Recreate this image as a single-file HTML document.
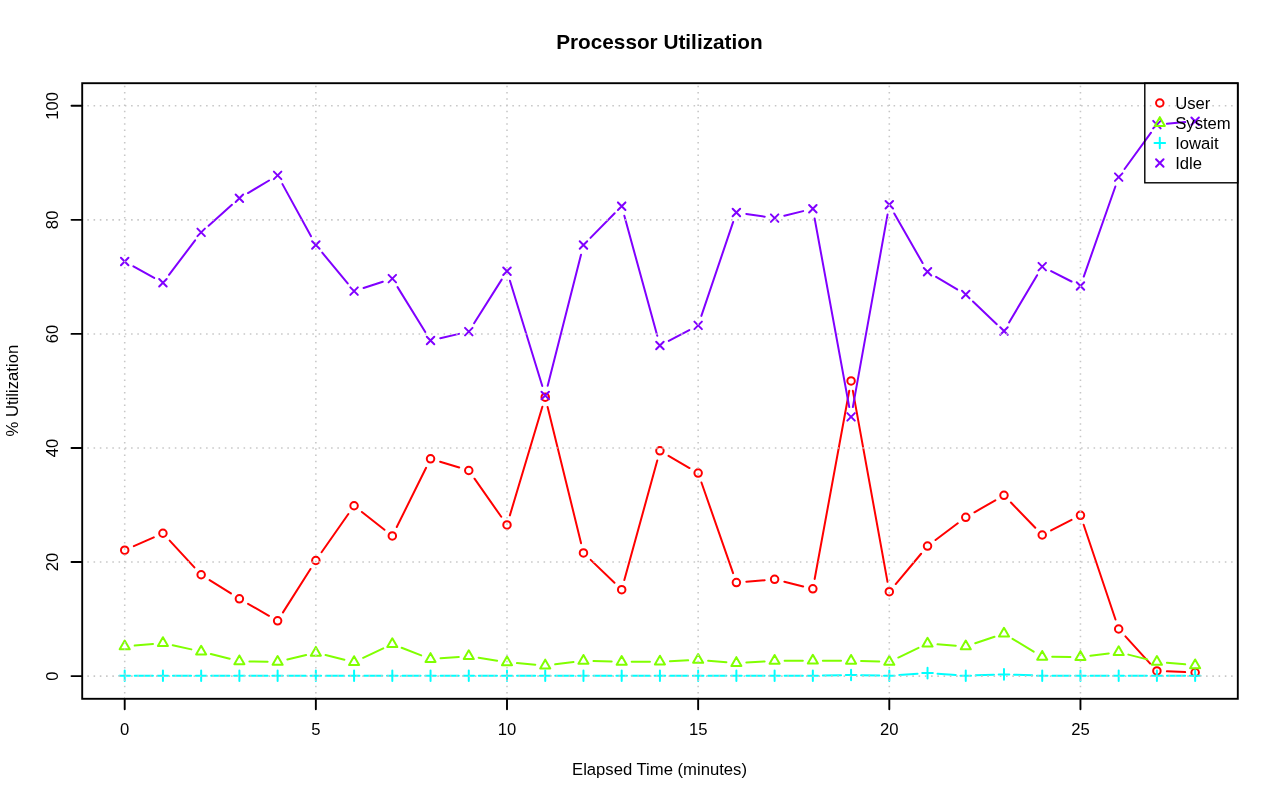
<!DOCTYPE html>
<html lang="en"><head><meta charset="utf-8"><title>Processor Utilization</title>
<style>html,body{margin:0;padding:0;background:#fff;overflow:hidden}body{width:1280px;height:801px;position:relative;font-family:"Liberation Sans",Arial,sans-serif}</style>
</head><body>
<svg width="1280" height="801" viewBox="0 0 1280 801" style="display:block;position:absolute;left:0;top:0">
<rect width="1280" height="801" fill="#fff"/>
<path d="M133.84 546.17L153.79 537.30M169.70 540.60L194.39 567.40M209.63 580.08L230.92 593.45M248.06 603.76L268.95 615.79M282.98 612.34L310.49 568.95M321.58 552.30L348.35 513.95M361.92 511.95L384.47 529.78M396.75 527.02L426.10 467.78M440.10 461.74L459.21 467.58M474.52 478.69L501.25 516.79M509.87 515.39L542.36 406.80M547.61 406.93L581.08 543.20M590.67 559.85L614.48 582.77M624.34 580.06L657.27 460.47M668.56 455.86L689.51 468.04M701.45 482.51L733.08 573.13M746.34 581.72L764.65 580.17M784.31 581.74L803.14 586.43M814.65 579.01L849.26 390.80M852.86 390.81L887.51 581.86M895.72 584.03L921.11 553.74M935.52 540.05L957.77 523.29M974.43 512.29L995.32 500.30M1010.93 502.52L1035.28 527.81M1051.11 530.42L1071.56 519.86M1083.64 524.75L1115.49 619.51M1125.41 636.39L1150.18 663.57M1166.90 671.37L1185.15 672.10" fill="none" stroke="#FF0000" stroke-width="2.0" stroke-linecap="round"/>
<circle cx="124.70" cy="550.23" r="3.75" fill="none" stroke="#FF0000" stroke-width="2.0"/>
<circle cx="162.93" cy="533.24" r="3.75" fill="none" stroke="#FF0000" stroke-width="2.0"/>
<circle cx="201.16" cy="574.76" r="3.75" fill="none" stroke="#FF0000" stroke-width="2.0"/>
<circle cx="239.39" cy="598.77" r="3.75" fill="none" stroke="#FF0000" stroke-width="2.0"/>
<circle cx="277.62" cy="620.78" r="3.75" fill="none" stroke="#FF0000" stroke-width="2.0"/>
<circle cx="315.85" cy="560.50" r="3.75" fill="none" stroke="#FF0000" stroke-width="2.0"/>
<circle cx="354.08" cy="505.75" r="3.75" fill="none" stroke="#FF0000" stroke-width="2.0"/>
<circle cx="392.31" cy="535.98" r="3.75" fill="none" stroke="#FF0000" stroke-width="2.0"/>
<circle cx="430.54" cy="458.82" r="3.75" fill="none" stroke="#FF0000" stroke-width="2.0"/>
<circle cx="468.77" cy="470.51" r="3.75" fill="none" stroke="#FF0000" stroke-width="2.0"/>
<circle cx="507.00" cy="524.97" r="3.75" fill="none" stroke="#FF0000" stroke-width="2.0"/>
<circle cx="545.23" cy="397.22" r="3.75" fill="none" stroke="#FF0000" stroke-width="2.0"/>
<circle cx="583.46" cy="552.92" r="3.75" fill="none" stroke="#FF0000" stroke-width="2.0"/>
<circle cx="621.69" cy="589.70" r="3.75" fill="none" stroke="#FF0000" stroke-width="2.0"/>
<circle cx="659.92" cy="450.83" r="3.75" fill="none" stroke="#FF0000" stroke-width="2.0"/>
<circle cx="698.15" cy="473.07" r="3.75" fill="none" stroke="#FF0000" stroke-width="2.0"/>
<circle cx="736.38" cy="582.57" r="3.75" fill="none" stroke="#FF0000" stroke-width="2.0"/>
<circle cx="774.61" cy="579.32" r="3.75" fill="none" stroke="#FF0000" stroke-width="2.0"/>
<circle cx="812.84" cy="588.84" r="3.75" fill="none" stroke="#FF0000" stroke-width="2.0"/>
<circle cx="851.07" cy="380.97" r="3.75" fill="none" stroke="#FF0000" stroke-width="2.0"/>
<circle cx="889.30" cy="591.70" r="3.75" fill="none" stroke="#FF0000" stroke-width="2.0"/>
<circle cx="927.53" cy="546.07" r="3.75" fill="none" stroke="#FF0000" stroke-width="2.0"/>
<circle cx="965.76" cy="517.27" r="3.75" fill="none" stroke="#FF0000" stroke-width="2.0"/>
<circle cx="1003.99" cy="495.31" r="3.75" fill="none" stroke="#FF0000" stroke-width="2.0"/>
<circle cx="1042.22" cy="535.01" r="3.75" fill="none" stroke="#FF0000" stroke-width="2.0"/>
<circle cx="1080.45" cy="515.28" r="3.75" fill="none" stroke="#FF0000" stroke-width="2.0"/>
<circle cx="1118.68" cy="628.99" r="3.75" fill="none" stroke="#FF0000" stroke-width="2.0"/>
<circle cx="1156.91" cy="670.97" r="3.75" fill="none" stroke="#FF0000" stroke-width="2.0"/>
<circle cx="1195.14" cy="672.51" r="3.75" fill="none" stroke="#FF0000" stroke-width="2.0"/>
<path d="M134.66 645.55L152.97 643.91M172.69 645.21L191.40 649.39M210.85 654.04L229.70 658.81M249.39 661.42L267.62 661.69M287.35 659.52L306.12 655.04M325.56 655.09L344.37 659.69M363.14 657.83L383.25 648.41M401.63 647.78L421.22 655.37M440.51 658.25L458.80 656.88M478.64 657.72L497.13 660.67M516.96 663.09L535.27 664.65M555.16 664.28L573.53 662.03M593.46 661.08L611.69 661.57M631.69 661.77L649.92 661.63M669.91 661.13L688.16 660.34M708.12 660.71L726.41 662.18M746.36 662.42L764.63 661.38M784.61 660.79L802.84 660.73M822.84 660.73L841.07 660.79M861.07 661.08L879.30 661.57M898.32 657.53L918.51 647.90M937.50 644.34L955.79 645.70M975.24 643.26L994.51 636.79M1012.54 638.80L1033.67 651.63M1052.22 656.87L1070.45 656.95M1090.37 655.74L1108.76 653.41M1128.37 654.61L1147.22 659.38M1166.87 662.73L1185.18 664.37" fill="none" stroke="#80FF00" stroke-width="2.0" stroke-linecap="round"/>
<path d="M124.70 640.61L129.75 649.36L119.65 649.36Z" fill="none" stroke="#80FF00" stroke-width="2.0" stroke-linejoin="round"/>
<path d="M162.93 637.19L167.98 645.94L157.88 645.94Z" fill="none" stroke="#80FF00" stroke-width="2.0" stroke-linejoin="round"/>
<path d="M201.16 645.75L206.21 654.49L196.11 654.49Z" fill="none" stroke="#80FF00" stroke-width="2.0" stroke-linejoin="round"/>
<path d="M239.39 655.44L244.44 664.19L234.34 664.19Z" fill="none" stroke="#80FF00" stroke-width="2.0" stroke-linejoin="round"/>
<path d="M277.62 656.01L282.67 664.76L272.57 664.76Z" fill="none" stroke="#80FF00" stroke-width="2.0" stroke-linejoin="round"/>
<path d="M315.85 646.89L320.90 655.63L310.80 655.63Z" fill="none" stroke="#80FF00" stroke-width="2.0" stroke-linejoin="round"/>
<path d="M354.08 656.24L359.13 664.99L349.03 664.99Z" fill="none" stroke="#80FF00" stroke-width="2.0" stroke-linejoin="round"/>
<path d="M392.31 638.33L397.36 647.08L387.26 647.08Z" fill="none" stroke="#80FF00" stroke-width="2.0" stroke-linejoin="round"/>
<path d="M430.54 653.16L435.59 661.91L425.49 661.91Z" fill="none" stroke="#80FF00" stroke-width="2.0" stroke-linejoin="round"/>
<path d="M468.77 650.31L473.82 659.06L463.72 659.06Z" fill="none" stroke="#80FF00" stroke-width="2.0" stroke-linejoin="round"/>
<path d="M507.00 656.41L512.05 665.16L501.95 665.16Z" fill="none" stroke="#80FF00" stroke-width="2.0" stroke-linejoin="round"/>
<path d="M545.23 659.66L550.28 668.41L540.18 668.41Z" fill="none" stroke="#80FF00" stroke-width="2.0" stroke-linejoin="round"/>
<path d="M583.46 654.98L588.51 663.73L578.41 663.73Z" fill="none" stroke="#80FF00" stroke-width="2.0" stroke-linejoin="round"/>
<path d="M621.69 656.01L626.74 664.76L616.64 664.76Z" fill="none" stroke="#80FF00" stroke-width="2.0" stroke-linejoin="round"/>
<path d="M659.92 655.73L664.97 664.47L654.87 664.47Z" fill="none" stroke="#80FF00" stroke-width="2.0" stroke-linejoin="round"/>
<path d="M698.15 654.07L703.20 662.82L693.10 662.82Z" fill="none" stroke="#80FF00" stroke-width="2.0" stroke-linejoin="round"/>
<path d="M736.38 657.15L741.43 665.90L731.33 665.90Z" fill="none" stroke="#80FF00" stroke-width="2.0" stroke-linejoin="round"/>
<path d="M774.61 654.98L779.66 663.73L769.56 663.73Z" fill="none" stroke="#80FF00" stroke-width="2.0" stroke-linejoin="round"/>
<path d="M812.84 654.87L817.89 663.62L807.79 663.62Z" fill="none" stroke="#80FF00" stroke-width="2.0" stroke-linejoin="round"/>
<path d="M851.07 654.98L856.12 663.73L846.02 663.73Z" fill="none" stroke="#80FF00" stroke-width="2.0" stroke-linejoin="round"/>
<path d="M889.30 656.01L894.35 664.76L884.25 664.76Z" fill="none" stroke="#80FF00" stroke-width="2.0" stroke-linejoin="round"/>
<path d="M927.53 637.76L932.58 646.51L922.48 646.51Z" fill="none" stroke="#80FF00" stroke-width="2.0" stroke-linejoin="round"/>
<path d="M965.76 640.61L970.81 649.36L960.71 649.36Z" fill="none" stroke="#80FF00" stroke-width="2.0" stroke-linejoin="round"/>
<path d="M1003.99 627.78L1009.04 636.53L998.94 636.53Z" fill="none" stroke="#80FF00" stroke-width="2.0" stroke-linejoin="round"/>
<path d="M1042.22 650.99L1047.27 659.74L1037.17 659.74Z" fill="none" stroke="#80FF00" stroke-width="2.0" stroke-linejoin="round"/>
<path d="M1080.45 651.16L1085.50 659.91L1075.40 659.91Z" fill="none" stroke="#80FF00" stroke-width="2.0" stroke-linejoin="round"/>
<path d="M1118.68 646.32L1123.73 655.06L1113.63 655.06Z" fill="none" stroke="#80FF00" stroke-width="2.0" stroke-linejoin="round"/>
<path d="M1156.91 656.01L1161.96 664.76L1151.86 664.76Z" fill="none" stroke="#80FF00" stroke-width="2.0" stroke-linejoin="round"/>
<path d="M1195.14 659.43L1200.19 668.18L1190.09 668.18Z" fill="none" stroke="#80FF00" stroke-width="2.0" stroke-linejoin="round"/>
<path d="M134.70 675.70L152.93 675.70M172.93 675.70L191.16 675.70M211.16 675.70L229.39 675.70M249.39 675.70L267.62 675.70M287.62 675.70L305.85 675.70M325.85 675.70L344.08 675.70M364.08 675.70L382.31 675.70M402.31 675.70L420.54 675.70M440.54 675.70L458.77 675.70M478.77 675.70L497.00 675.70M517.00 675.70L535.23 675.70M555.23 675.70L573.46 675.70M593.46 675.70L611.69 675.70M631.69 675.70L649.92 675.70M669.92 675.70L688.15 675.70M708.15 675.70L726.38 675.70M746.38 675.70L764.61 675.70M784.61 675.70L802.84 675.70M822.84 675.51L841.07 675.15M861.07 675.15L879.30 675.51M899.28 675.02L917.55 673.76M937.51 673.76L955.78 675.02M975.75 675.36L994.00 674.73M1013.98 674.73L1032.23 675.36M1052.22 675.70L1070.45 675.70M1090.45 675.70L1108.68 675.70M1128.68 675.70L1146.91 675.70M1166.91 675.70L1185.14 675.70" fill="none" stroke="#00FFFF" stroke-width="2.0" stroke-linecap="round"/>
<path d="M119.40 675.70H130.00M124.70 670.40V681.00" fill="none" stroke="#00FFFF" stroke-width="2.0" stroke-linecap="round"/>
<path d="M157.63 675.70H168.23M162.93 670.40V681.00" fill="none" stroke="#00FFFF" stroke-width="2.0" stroke-linecap="round"/>
<path d="M195.86 675.70H206.46M201.16 670.40V681.00" fill="none" stroke="#00FFFF" stroke-width="2.0" stroke-linecap="round"/>
<path d="M234.09 675.70H244.69M239.39 670.40V681.00" fill="none" stroke="#00FFFF" stroke-width="2.0" stroke-linecap="round"/>
<path d="M272.32 675.70H282.92M277.62 670.40V681.00" fill="none" stroke="#00FFFF" stroke-width="2.0" stroke-linecap="round"/>
<path d="M310.55 675.70H321.15M315.85 670.40V681.00" fill="none" stroke="#00FFFF" stroke-width="2.0" stroke-linecap="round"/>
<path d="M348.78 675.70H359.38M354.08 670.40V681.00" fill="none" stroke="#00FFFF" stroke-width="2.0" stroke-linecap="round"/>
<path d="M387.01 675.70H397.61M392.31 670.40V681.00" fill="none" stroke="#00FFFF" stroke-width="2.0" stroke-linecap="round"/>
<path d="M425.24 675.70H435.84M430.54 670.40V681.00" fill="none" stroke="#00FFFF" stroke-width="2.0" stroke-linecap="round"/>
<path d="M463.47 675.70H474.07M468.77 670.40V681.00" fill="none" stroke="#00FFFF" stroke-width="2.0" stroke-linecap="round"/>
<path d="M501.70 675.70H512.30M507.00 670.40V681.00" fill="none" stroke="#00FFFF" stroke-width="2.0" stroke-linecap="round"/>
<path d="M539.93 675.70H550.53M545.23 670.40V681.00" fill="none" stroke="#00FFFF" stroke-width="2.0" stroke-linecap="round"/>
<path d="M578.16 675.70H588.76M583.46 670.40V681.00" fill="none" stroke="#00FFFF" stroke-width="2.0" stroke-linecap="round"/>
<path d="M616.39 675.70H626.99M621.69 670.40V681.00" fill="none" stroke="#00FFFF" stroke-width="2.0" stroke-linecap="round"/>
<path d="M654.62 675.70H665.22M659.92 670.40V681.00" fill="none" stroke="#00FFFF" stroke-width="2.0" stroke-linecap="round"/>
<path d="M692.85 675.70H703.45M698.15 670.40V681.00" fill="none" stroke="#00FFFF" stroke-width="2.0" stroke-linecap="round"/>
<path d="M731.08 675.70H741.68M736.38 670.40V681.00" fill="none" stroke="#00FFFF" stroke-width="2.0" stroke-linecap="round"/>
<path d="M769.31 675.70H779.91M774.61 670.40V681.00" fill="none" stroke="#00FFFF" stroke-width="2.0" stroke-linecap="round"/>
<path d="M807.54 675.70H818.14M812.84 670.40V681.00" fill="none" stroke="#00FFFF" stroke-width="2.0" stroke-linecap="round"/>
<path d="M845.77 674.96H856.37M851.07 669.66V680.26" fill="none" stroke="#00FFFF" stroke-width="2.0" stroke-linecap="round"/>
<path d="M884.00 675.70H894.60M889.30 670.40V681.00" fill="none" stroke="#00FFFF" stroke-width="2.0" stroke-linecap="round"/>
<path d="M922.23 673.08H932.83M927.53 667.77V678.38" fill="none" stroke="#00FFFF" stroke-width="2.0" stroke-linecap="round"/>
<path d="M960.46 675.70H971.06M965.76 670.40V681.00" fill="none" stroke="#00FFFF" stroke-width="2.0" stroke-linecap="round"/>
<path d="M998.69 674.39H1009.29M1003.99 669.09V679.69" fill="none" stroke="#00FFFF" stroke-width="2.0" stroke-linecap="round"/>
<path d="M1036.92 675.70H1047.52M1042.22 670.40V681.00" fill="none" stroke="#00FFFF" stroke-width="2.0" stroke-linecap="round"/>
<path d="M1075.15 675.70H1085.75M1080.45 670.40V681.00" fill="none" stroke="#00FFFF" stroke-width="2.0" stroke-linecap="round"/>
<path d="M1113.38 675.70H1123.98M1118.68 670.40V681.00" fill="none" stroke="#00FFFF" stroke-width="2.0" stroke-linecap="round"/>
<path d="M1151.61 675.70H1162.21M1156.91 670.40V681.00" fill="none" stroke="#00FFFF" stroke-width="2.0" stroke-linecap="round"/>
<path d="M1189.84 675.70H1200.44M1195.14 670.40V681.00" fill="none" stroke="#00FFFF" stroke-width="2.0" stroke-linecap="round"/>
<path d="M133.44 266.35L154.19 277.90M168.98 274.80L195.11 240.37M208.61 225.74L231.94 204.86M247.98 193.06L269.03 180.50M282.44 184.14L311.03 236.19M322.23 252.66L347.70 283.44M363.58 288.03L382.81 281.72M397.57 287.11L425.28 331.97M440.28 338.23L459.03 333.89M474.11 323.19L501.66 279.64M509.94 280.75L542.29 385.95M547.69 385.82L581.00 254.65M590.48 237.83L614.67 213.29M624.34 215.82L657.27 335.85M668.77 340.84L689.30 330.02M701.36 315.89L733.17 221.92M746.27 213.92L764.72 216.67M784.32 215.76L803.13 211.13M814.65 218.57L849.26 407.06M852.84 407.06L887.53 214.59M894.26 213.43L922.57 263.07M936.12 276.88L957.17 289.45M972.99 301.47L996.76 324.16M1009.09 322.47L1037.12 275.23M1051.14 271.15L1071.53 281.49M1083.76 276.58L1115.37 186.52M1124.57 169.01L1151.02 132.70M1166.87 123.73L1185.18 122.09" fill="none" stroke="#8000FF" stroke-width="2.0" stroke-linecap="round"/>
<path d="M120.95 257.74L128.45 265.24M120.95 265.24L128.45 257.74" fill="none" stroke="#8000FF" stroke-width="2.0" stroke-linecap="round"/>
<path d="M159.18 279.01L166.68 286.51M159.18 286.51L166.68 279.01" fill="none" stroke="#8000FF" stroke-width="2.0" stroke-linecap="round"/>
<path d="M197.41 228.66L204.91 236.16M197.41 236.16L204.91 228.66" fill="none" stroke="#8000FF" stroke-width="2.0" stroke-linecap="round"/>
<path d="M235.64 194.44L243.14 201.94M235.64 201.94L243.14 194.44" fill="none" stroke="#8000FF" stroke-width="2.0" stroke-linecap="round"/>
<path d="M273.87 171.63L281.37 179.13M273.87 179.13L281.37 171.63" fill="none" stroke="#8000FF" stroke-width="2.0" stroke-linecap="round"/>
<path d="M312.10 241.20L319.60 248.70M312.10 248.70L319.60 241.20" fill="none" stroke="#8000FF" stroke-width="2.0" stroke-linecap="round"/>
<path d="M350.33 287.40L357.83 294.90M350.33 294.90L357.83 287.40" fill="none" stroke="#8000FF" stroke-width="2.0" stroke-linecap="round"/>
<path d="M388.56 274.85L396.06 282.35M388.56 282.35L396.06 274.85" fill="none" stroke="#8000FF" stroke-width="2.0" stroke-linecap="round"/>
<path d="M426.79 336.73L434.29 344.23M426.79 344.23L434.29 336.73" fill="none" stroke="#8000FF" stroke-width="2.0" stroke-linecap="round"/>
<path d="M465.02 327.89L472.52 335.39M465.02 335.39L472.52 327.89" fill="none" stroke="#8000FF" stroke-width="2.0" stroke-linecap="round"/>
<path d="M503.25 267.44L510.75 274.94M503.25 274.94L510.75 267.44" fill="none" stroke="#8000FF" stroke-width="2.0" stroke-linecap="round"/>
<path d="M541.48 391.76L548.98 399.26M541.48 399.26L548.98 391.76" fill="none" stroke="#8000FF" stroke-width="2.0" stroke-linecap="round"/>
<path d="M579.71 241.20L587.21 248.70M579.71 248.70L587.21 241.20" fill="none" stroke="#8000FF" stroke-width="2.0" stroke-linecap="round"/>
<path d="M617.94 202.42L625.44 209.92M617.94 209.92L625.44 202.42" fill="none" stroke="#8000FF" stroke-width="2.0" stroke-linecap="round"/>
<path d="M656.17 341.75L663.67 349.25M656.17 349.25L663.67 341.75" fill="none" stroke="#8000FF" stroke-width="2.0" stroke-linecap="round"/>
<path d="M694.40 321.62L701.90 329.12M694.40 329.12L701.90 321.62" fill="none" stroke="#8000FF" stroke-width="2.0" stroke-linecap="round"/>
<path d="M732.63 208.70L740.13 216.20M732.63 216.20L740.13 208.70" fill="none" stroke="#8000FF" stroke-width="2.0" stroke-linecap="round"/>
<path d="M770.86 214.40L778.36 221.90M770.86 221.90L778.36 214.40" fill="none" stroke="#8000FF" stroke-width="2.0" stroke-linecap="round"/>
<path d="M809.09 204.99L816.59 212.49M809.09 212.49L816.59 204.99" fill="none" stroke="#8000FF" stroke-width="2.0" stroke-linecap="round"/>
<path d="M847.32 413.15L854.82 420.65M847.32 420.65L854.82 413.15" fill="none" stroke="#8000FF" stroke-width="2.0" stroke-linecap="round"/>
<path d="M885.55 201.00L893.05 208.50M885.55 208.50L893.05 201.00" fill="none" stroke="#8000FF" stroke-width="2.0" stroke-linecap="round"/>
<path d="M923.78 268.01L931.28 275.51M923.78 275.51L931.28 268.01" fill="none" stroke="#8000FF" stroke-width="2.0" stroke-linecap="round"/>
<path d="M962.01 290.82L969.51 298.32M962.01 298.32L969.51 290.82" fill="none" stroke="#8000FF" stroke-width="2.0" stroke-linecap="round"/>
<path d="M1000.24 327.32L1007.74 334.82M1000.24 334.82L1007.74 327.32" fill="none" stroke="#8000FF" stroke-width="2.0" stroke-linecap="round"/>
<path d="M1038.47 262.87L1045.97 270.37M1038.47 270.37L1045.97 262.87" fill="none" stroke="#8000FF" stroke-width="2.0" stroke-linecap="round"/>
<path d="M1076.70 282.26L1084.20 289.76M1076.70 289.76L1084.20 282.26" fill="none" stroke="#8000FF" stroke-width="2.0" stroke-linecap="round"/>
<path d="M1114.93 173.34L1122.43 180.84M1114.93 180.84L1122.43 173.34" fill="none" stroke="#8000FF" stroke-width="2.0" stroke-linecap="round"/>
<path d="M1153.16 120.87L1160.66 128.37M1153.16 128.37L1160.66 120.87" fill="none" stroke="#8000FF" stroke-width="2.0" stroke-linecap="round"/>
<path d="M1191.39 117.45L1198.89 124.95M1191.39 124.95L1198.89 117.45" fill="none" stroke="#8000FF" stroke-width="2.0" stroke-linecap="round"/>
<g stroke="#c7c7c7" stroke-width="1.56" stroke-dasharray="1.56 4.69" stroke-dashoffset="0.78" fill="none"><line x1="124.70" y1="699.06" x2="124.70" y2="84" /><line x1="315.85" y1="699.06" x2="315.85" y2="84" /><line x1="507.00" y1="699.06" x2="507.00" y2="84" /><line x1="698.15" y1="699.06" x2="698.15" y2="84" /><line x1="889.30" y1="699.06" x2="889.30" y2="84" /><line x1="1080.45" y1="699.06" x2="1080.45" y2="84" /><line x1="81.85" y1="676.10" x2="1236" y2="676.10" /><line x1="81.85" y1="562.04" x2="1236" y2="562.04" /><line x1="81.85" y1="447.98" x2="1236" y2="447.98" /><line x1="81.85" y1="333.92" x2="1236" y2="333.92" /><line x1="81.85" y1="219.86" x2="1236" y2="219.86" /><line x1="81.85" y1="105.80" x2="1236" y2="105.80" /></g>
<rect x="82.2" y="83.2" width="1155.6" height="615.5999999999999" fill="none" stroke="#000" stroke-width="1.9"/>
<path d="M124.70 698.8V709.3M315.85 698.8V709.3M507.00 698.8V709.3M698.15 698.8V709.3M889.30 698.8V709.3M1080.45 698.8V709.3M82.2 676.10H71.5M82.2 562.04H71.5M82.2 447.98H71.5M82.2 333.92H71.5M82.2 219.86H71.5M82.2 105.80H71.5" stroke="#000" stroke-width="1.9" fill="none" stroke-linecap="round"/>
<g font-family="'Liberation Sans', Arial, Helvetica, sans-serif" font-size="16.67" fill="#000">
<text x="124.70" y="734.6" text-anchor="middle">0</text>
<text x="315.85" y="734.6" text-anchor="middle">5</text>
<text x="507.00" y="734.6" text-anchor="middle">10</text>
<text x="698.15" y="734.6" text-anchor="middle">15</text>
<text x="889.30" y="734.6" text-anchor="middle">20</text>
<text x="1080.45" y="734.6" text-anchor="middle">25</text>
<text transform="translate(58 676.10) rotate(-90)" text-anchor="middle">0</text>
<text transform="translate(58 562.04) rotate(-90)" text-anchor="middle">20</text>
<text transform="translate(58 447.98) rotate(-90)" text-anchor="middle">40</text>
<text transform="translate(58 333.92) rotate(-90)" text-anchor="middle">60</text>
<text transform="translate(58 219.86) rotate(-90)" text-anchor="middle">80</text>
<text transform="translate(58 105.80) rotate(-90)" text-anchor="middle">100</text>
<text x="659.5" y="774.5" text-anchor="middle">Elapsed Time (minutes)</text>
<text transform="translate(17.8 390.6) rotate(-90)" text-anchor="middle">% Utilization</text>
<text x="659.4" y="49.4" text-anchor="middle" font-weight="bold" font-size="20.4" textLength="206.4" lengthAdjust="spacingAndGlyphs">Processor Utilization</text>
<rect x="1144.8" y="83.2" width="93.0" height="99.60000000000001" fill="none" stroke="#000" stroke-width="1.4"/>
<circle cx="1159.80" cy="103.00" r="3.75" fill="none" stroke="#FF0000" stroke-width="2.0"/>
<text x="1175.2" y="108.80">User</text>
<path d="M1159.80 117.17L1164.85 125.92L1154.75 125.92Z" fill="none" stroke="#80FF00" stroke-width="2.0" stroke-linejoin="round"/>
<text x="1175.2" y="128.80">System</text>
<path d="M1154.50 143.00H1165.10M1159.80 137.70V148.30" fill="none" stroke="#00FFFF" stroke-width="2.0" stroke-linecap="round"/>
<text x="1175.2" y="148.80">Iowait</text>
<path d="M1156.05 159.25L1163.55 166.75M1156.05 166.75L1163.55 159.25" fill="none" stroke="#8000FF" stroke-width="2.0" stroke-linecap="round"/>
<text x="1175.2" y="168.80">Idle</text>
</g>
</svg>
</body></html>
